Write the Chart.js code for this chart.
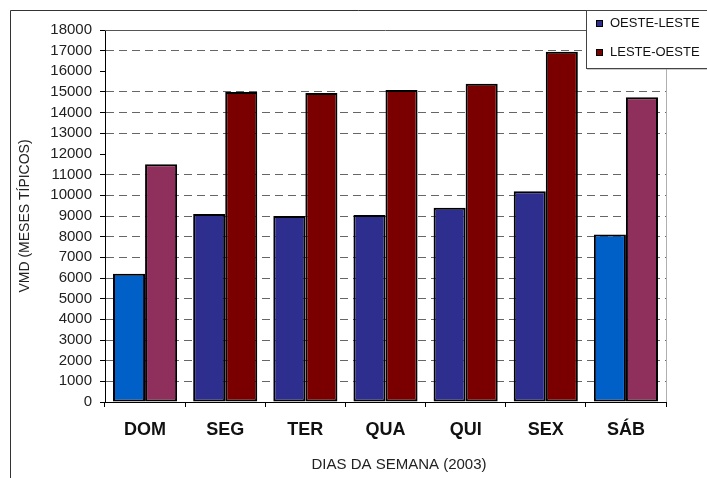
<!DOCTYPE html>
<html>
<head>
<meta charset="utf-8">
<script src="https://cdn.jsdelivr.net/npm/chart.js@4.4.1/dist/chart.umd.min.js"></script>
<style>
  html, body { margin: 0; padding: 0; background: #ffffff; }
  #wrap { width: 707px; height: 478px; position: relative; }
</style>
</head>
<body>
<div id="wrap"><canvas id="c" width="707" height="478"></canvas></div>
<script>
// Weekday categories and daily traffic (VMD) per direction
const dias = ['DOM', 'SEG', 'TER', 'QUA', 'QUI', 'SEX', 'SÁB'];
const oesteLeste = [6200, 9100, 9000, 9050, 9400, 10200, 8100];
const lesteOeste = [11500, 15000, 14950, 15100, 15400, 16950, 14750];
const serieNomes = ['OESTE-LESTE', 'LESTE-OESTE'];
const yTicks = [0, 1000, 2000, 3000, 4000, 5000, 6000, 7000, 8000, 9000,
  10000, 11000, 12000, 13000, 14000, 15000, 16000, 17000, 18000];
const yTitulo = 'VMD (MESES TÍPICOS)';
const xTitulo = 'DIAS DA SEMANA (2003)';

// weekend days use lighter shades
const fimDeSemana = ['DOM', 'SÁB'];
const corOL = dias.map(d => fimDeSemana.includes(d) ? '#0060C8' : '#2E2E8E');
const corLO = dias.map(d => fimDeSemana.includes(d) ? '#8E2F5C' : '#7A0000');
const legendaCores = ['#2E2E8E', '#7A0000'];

const FONT = '"Liberation Sans", Arial, sans-serif';
const semGrade = [0, 12000, 16000, 18000];

const molduraPlugin = {
  id: 'moldura',
  beforeDatasetsDraw(chart) {
    const { ctx, chartArea: a } = chart;
    ctx.save();
    // plot frame: top and right edges
    ctx.lineWidth = 1;
    ctx.strokeStyle = '#555555';
    ctx.beginPath();
    ctx.moveTo(a.left, Math.round(a.top) + 0.5);
    ctx.lineTo(a.right, Math.round(a.top) + 0.5);
    ctx.stroke();
    ctx.strokeStyle = '#b0b0b0';
    ctx.beginPath();
    ctx.moveTo(Math.round(a.right) + 0.5, a.top);
    ctx.lineTo(Math.round(a.right) + 0.5, a.bottom);
    ctx.stroke();
    ctx.restore();
  },
  afterDraw(chart) {
    const { ctx } = chart;
    ctx.save();
    // outer chart border
    ctx.strokeStyle = '#333333';
    ctx.lineWidth = 1;
    ctx.beginPath();
    ctx.moveTo(10.5, 478);
    ctx.lineTo(10.5, 10.5);
    ctx.lineTo(707, 10.5);
    ctx.stroke();

    // x axis title
    ctx.fillStyle = '#222222';
    ctx.font = '15px ' + FONT;
    ctx.textAlign = 'center';
    ctx.textBaseline = 'middle';
    ctx.fillText(xTitulo, 399, 465);

    // legend box
    const bx = 586, by = 10, bw = 140, bh = 58;
    ctx.fillStyle = '#999999';
    ctx.fillRect(bx + 1, by + bh, bw, 1.5);
    ctx.fillStyle = '#ffffff';
    ctx.fillRect(bx, by, bw, bh);
    ctx.strokeStyle = '#444444';
    ctx.strokeRect(bx + 0.5, by + 0.5, bw, bh);
    chart.data.datasets.forEach((ds, i) => {
      const cy = 23.5 + i * 29;
      ctx.fillStyle = legendaCores[i];
      ctx.fillRect(596, cy - 3.5, 7, 7);
      ctx.strokeStyle = '#000000';
      ctx.lineWidth = 1;
      ctx.strokeRect(596.5, cy - 3, 6, 6);
      ctx.fillStyle = '#111111';
      ctx.font = '13px ' + FONT;
      ctx.textAlign = 'left';
      ctx.textBaseline = 'middle';
      ctx.fillText(ds.label, 610, cy);
    });
    ctx.restore();
  }
};

new Chart(document.getElementById('c'), {
  type: 'bar',
  data: {
    labels: dias,
    datasets: [
      { label: serieNomes[0], data: oesteLeste, backgroundColor: corOL,
        borderColor: '#000000', borderWidth: 2, borderSkipped: false },
      { label: serieNomes[1], data: lesteOeste, backgroundColor: corLO,
        borderColor: '#000000', borderWidth: 2, borderSkipped: false }
    ]
  },
  options: {
    responsive: false,
    animation: false,
    devicePixelRatio: 1,
    layout: { padding: { left: 10, top: 30, right: 41, bottom: 0 } },
    plugins: {
      legend: { display: false },
      tooltip: { enabled: false }
    },
    datasets: { bar: { categoryPercentage: 0.8, barPercentage: 1.0 } },
    scales: {
      x: {
        grid: {
          offset: true,
          drawOnChartArea: false,
          tickLength: 5,
          tickColor: '#000000'
        },
        border: { color: '#000000', width: 1 },
        ticks: {
          padding: 12,
          color: '#111111',
          font: { family: FONT, size: 18, weight: 'bold' }
        },
        afterFit(scale) { scale.height = 76; }
      },
      y: {
        min: 0,
        max: 18000,
        afterBuildTicks(scale) { scale.ticks = yTicks.map(v => ({ value: v })); },
        grid: {
          color: (c) => (c.tick && semGrade.includes(c.tick.value)) ? 'rgba(0,0,0,0)' : '#666666',
          tickColor: '#000000',
          tickLength: 5,
          tickBorderDash: [],
          lineWidth: 1
        },
        border: { color: '#000000', width: 1, dash: [8, 5] },
        ticks: {
          autoSkip: false,
          padding: 8,
          color: '#222222',
          font: { family: FONT, size: 15 },
          callback: (v) => String(v)
        },
        title: {
          display: true,
          text: yTitulo,
          color: '#222222',
          font: { family: FONT, size: 14 },
          padding: { top: 7, bottom: 0 }
        },
        afterFit(scale) { scale.width = 95; }
      }
    }
  },
  plugins: [molduraPlugin]
});
</script>
</body>
</html>
